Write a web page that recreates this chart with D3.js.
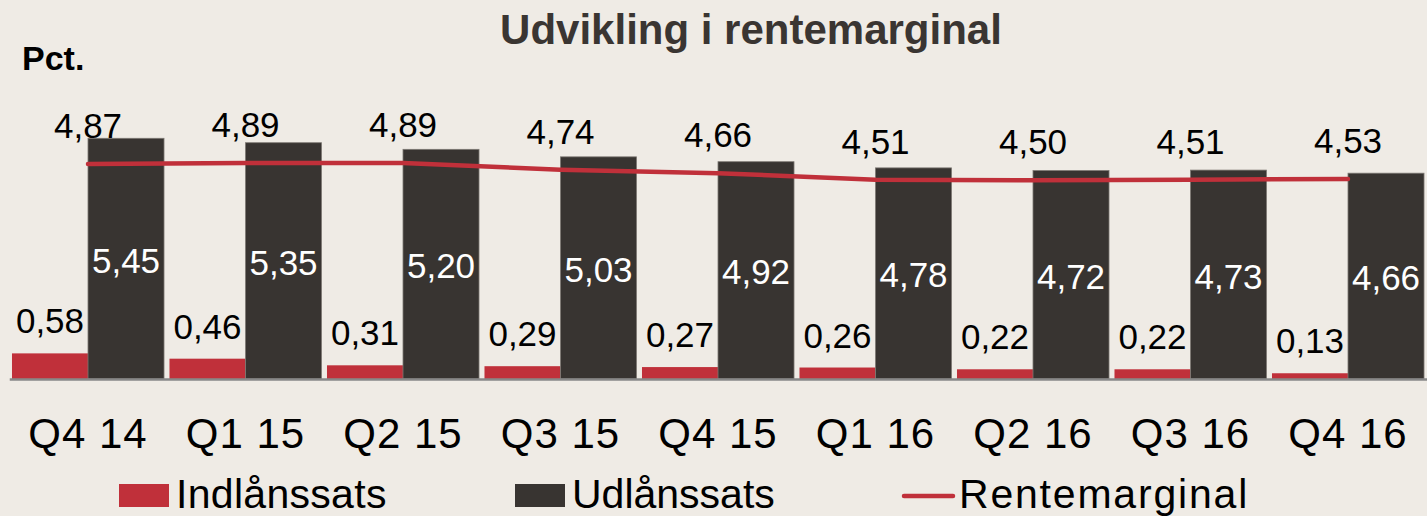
<!DOCTYPE html>
<html>
<head>
<meta charset="utf-8">
<script src="https://cdn.jsdelivr.net/npm/d3@7"></script>
<style>
  html, body { margin: 0; padding: 0; background: #efebe5; }
  svg { display: block; }
  text { font-family: "Liberation Sans", Arial, sans-serif; }
</style>
</head>
<body>
<svg id="chart" width="1427" height="516"></svg>
<script>
const categories = ["Q4 14","Q1 15","Q2 15","Q3 15","Q4 15","Q1 16","Q2 16","Q3 16","Q4 16"];
const indlaan = [0.58,0.46,0.31,0.29,0.27,0.26,0.22,0.22,0.13];
const udlaan = [5.45,5.35,5.20,5.03,4.92,4.78,4.72,4.73,4.66];
const rentemarginal = [4.87,4.89,4.89,4.74,4.66,4.51,4.50,4.51,4.53];
const seriesNames = ["Indlånssats","Udlånssats","Rentemarginal"];
const yDomain = [0, 6];

const RED = "#c0303a", DARK = "#383431", BG = "#efebe5";
const fmt = v => d3.format(".2f")(v).replace(".", ",");

const svg = d3.select("#chart");
svg.append("rect").attr("width",1427).attr("height",516).attr("fill",BG);

const x0 = d3.scaleBand().domain(categories).range([9.25, 1426.75]).paddingInner(0).paddingOuter(0);
const x1 = d3.scaleBand().domain(["ind","ud"]).range([0, x0.bandwidth()]).paddingInner(0).paddingOuter(0.036);
const y = d3.scaleLinear().domain(yDomain).range([379, 114]);

// title
svg.append("text").attr("x", 751).attr("y", 44).attr("text-anchor","middle")
  .attr("font-size", 42).attr("font-weight","bold").attr("fill","#3a3532")
  .text("Udvikling i rentemarginal");
svg.append("text").attr("x", 22).attr("y", 70)
  .attr("font-size", 34).attr("font-weight","bold").attr("fill","#000")
  .text("Pct.");

const data = categories.map((c,i) => ({c, ind: indlaan[i], ud: udlaan[i], rm: rentemarginal[i]}));

// bars
const g = svg.append("g");
g.selectAll("rect.ind").data(data).join("rect").attr("class","ind")
  .attr("x", d => x0(d.c) + x1("ind")).attr("width", x1.bandwidth())
  .attr("y", d => y(d.ind)).attr("height", d => y(0) - y(d.ind))
  .attr("fill", RED);
g.selectAll("rect.ud").data(data).join("rect").attr("class","ud")
  .attr("x", d => x0(d.c) + x1("ud")).attr("width", x1.bandwidth())
  .attr("y", d => y(d.ud)).attr("height", d => y(0) - y(d.ud))
  .attr("fill", DARK).attr("stroke","#7d7873").attr("stroke-width",0.8);

// axis
const ax = svg.append("g").attr("transform", `translate(0,${y(0)})`)
  .call(d3.axisBottom(x0).tickSize(0).tickSizeOuter(0).tickPadding(0));
ax.select(".domain").attr("stroke","#888").attr("stroke-width",2.5);
ax.selectAll(".tick text").attr("font-size",42).attr("fill","#000")
  .attr("font-family","Liberation Sans, Arial, sans-serif")
  .attr("letter-spacing", 1)
  .attr("dy",null).attr("y", 69).attr("dominant-baseline", null);

// line
const line = d3.line().x(d => x0(d.c) + x0.bandwidth()/2).y(d => y(d.rm));
svg.append("path").datum(data).attr("d", line).attr("fill","none")
  .attr("stroke", RED).attr("stroke-width", 4.5).attr("stroke-linecap","round").attr("stroke-linejoin","round");

// labels
svg.selectAll("text.ind").data(data).join("text").attr("class","ind")
  .attr("x", d => x0(d.c) + x1("ind") + x1.bandwidth()/2).attr("y", d => y(d.ind) - 20)
  .attr("text-anchor","middle").attr("font-size",35).attr("fill","#000").text(d => fmt(d.ind));
svg.selectAll("text.ud").data(data).join("text").attr("class","ud")
  .attr("x", d => x0(d.c) + x1("ud") + x1.bandwidth()/2).attr("y", d => (y(d.ud) + y(0))/2 + 14)
  .attr("text-anchor","middle").attr("font-size",35).attr("fill","#fff").text(d => fmt(d.ud));
svg.selectAll("text.rm").data(data).join("text").attr("class","rm")
  .attr("x", d => x0(d.c) + x0.bandwidth()/2).attr("y", d => y(d.rm) - 26)
  .attr("text-anchor","middle").attr("font-size",35).attr("fill","#000").text(d => fmt(d.rm));

// legend
const lg = svg.append("g");
const legendItems = [
  {name: seriesNames[0], type:"rect", color: RED, x: 119, ls: 0.3},
  {name: seriesNames[1], type:"rect", color: DARK, x: 515, ls: 0},
  {name: seriesNames[2], type:"line", color: RED, x: 902, ls: 1.8}
];
legendItems.forEach(it => {
  if (it.type === "rect") {
    lg.append("rect").attr("x", it.x).attr("y", 484).attr("width", 50).attr("height", 23).attr("fill", it.color);
  } else {
    lg.append("line").attr("x1", it.x + 2).attr("x2", it.x + 51).attr("y1", 496).attr("y2", 496)
      .attr("stroke", it.color).attr("stroke-width", 4.5).attr("stroke-linecap","round");
  }
  lg.append("text").attr("x", it.x + 57).attr("y", 508).attr("font-size", 41)
    .attr("letter-spacing", it.ls).attr("fill","#000").text(it.name);
});
</script>
</body>
</html>
